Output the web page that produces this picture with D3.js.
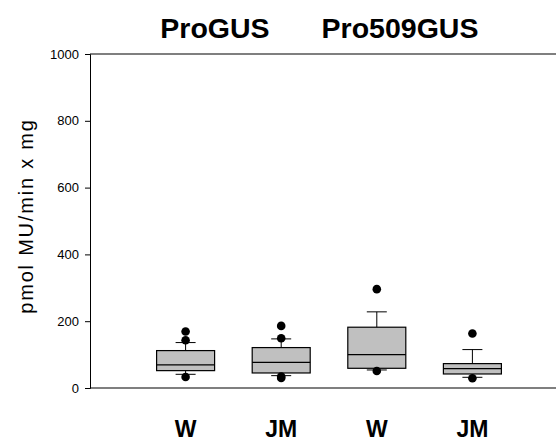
<!DOCTYPE html>
<html><head><meta charset="utf-8">
<script src="https://cdn.jsdelivr.net/npm/d3@7/dist/d3.min.js"></script>
<style>body{margin:0;background:#fff}svg{display:block}</style>
</head><body>
<svg id="c" width="556" height="441"></svg>
<script>
const categories = ["W", "JM", "W", "JM"];
const groupTitles = ["ProGUS", "Pro509GUS"];
const q1 =       [52, 45, 59, 42];
const medians =  [69, 77, 100, 58];
const q3 =       [112, 121, 182, 73];
const whiskLo =  [41, 37, 54, 32];
const whiskHi =  [136, 147, 228, 115];
const outliers = [[169, 143, 33], [186, 149, 34, 30], [296, 51], [163, 29]];
const yTicks = [0, 200, 400, 600, 800, 1000];

const svg = d3.select("#c");
const x = d3.scaleLinear().domain([0, 5]).range([90, 568]);
const y = d3.scaleLinear().domain([0, 1000]).range([388, 54]);
const font = "Arial, 'Liberation Sans', sans-serif";

svg.append("line").attr("x1", 90).attr("x2", 556).attr("y1", y(1000)).attr("y2", y(1000)).attr("stroke", "#000").attr("stroke-width", 1.2);
svg.append("line").attr("x1", 90).attr("x2", 556).attr("y1", y(0)).attr("y2", y(0)).attr("stroke", "#000").attr("stroke-width", 1.2);

const yAxis = svg.append("g").attr("transform", "translate(90,0)")
  .call(d3.axisLeft(y).tickValues(yTicks).tickSize(5).tickPadding(6).tickFormat(d3.format("d")));
yAxis.select(".domain").attr("stroke", "#000");
yAxis.selectAll("text").attr("font-family", font).attr("font-size", 13).attr("fill", "#000");

const bw = 58, cap = 20;
categories.forEach((c, i) => {
  const cx = x(i + 1);
  const g = svg.append("g");
  g.append("line").attr("x1", cx).attr("x2", cx).attr("y1", y(q3[i])).attr("y2", y(whiskHi[i])).attr("stroke", "#000");
  g.append("line").attr("x1", cx).attr("x2", cx).attr("y1", y(q1[i])).attr("y2", y(whiskLo[i])).attr("stroke", "#000");
  g.append("line").attr("x1", cx - cap/2).attr("x2", cx + cap/2).attr("y1", y(whiskHi[i])).attr("y2", y(whiskHi[i])).attr("stroke", "#000");
  g.append("line").attr("x1", cx - cap/2).attr("x2", cx + cap/2).attr("y1", y(whiskLo[i])).attr("y2", y(whiskLo[i])).attr("stroke", "#000");
  g.append("rect").attr("x", cx - bw/2).attr("width", bw).attr("y", y(q3[i])).attr("height", y(q1[i]) - y(q3[i]))
    .attr("fill", "#c0c0c0").attr("stroke", "#000").attr("stroke-width", 1.2);
  g.append("line").attr("x1", cx - bw/2).attr("x2", cx + bw/2).attr("y1", y(medians[i])).attr("y2", y(medians[i])).attr("stroke", "#000").attr("stroke-width", 1.2);
  outliers[i].forEach(v => {
    g.append("circle").attr("cx", cx).attr("cy", y(v)).attr("r", 4.3).attr("fill", "#000");
  });
  svg.append("text").attr("x", cx).attr("y", 437).attr("text-anchor", "middle")
    .attr("font-family", font).attr("font-weight", "bold").attr("font-size", 23).text(c);
});

groupTitles.forEach((t, j) => {
  svg.append("text").attr("x", j === 0 ? 215 : 400).attr("y", 38).attr("text-anchor", "middle")
    .attr("font-family", font).attr("font-weight", "bold").attr("font-size", 28.5).text(t);
});

svg.append("text").attr("transform", "translate(33,216) rotate(-90)").attr("text-anchor", "middle")
  .attr("font-family", font).attr("font-size", 20).attr("letter-spacing", 1.8).text("pmol MU/min x mg");
</script>
</body></html>
